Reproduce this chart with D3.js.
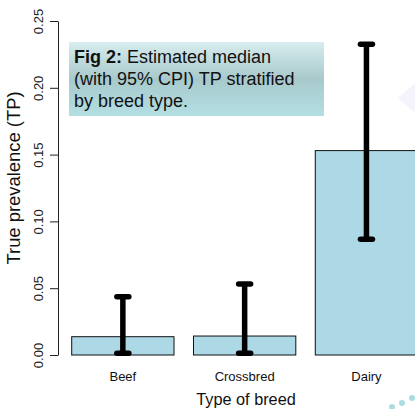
<!DOCTYPE html>
<html><head><meta charset="utf-8">
<script src="https://cdn.jsdelivr.net/npm/d3@7"></script>
<style>html,body{margin:0;padding:0;background:#fff;}svg{display:block;font-family:"Liberation Sans",Arial,sans-serif;}</style>
</head><body>
<script>
const categories = ["Beef", "Crossbred", "Dairy"];
const medianTP = [0.0137, 0.0142, 0.153];
const lowerCPI = [0.0013, 0.0013, 0.0866];
const upperCPI = [0.0436, 0.0531, 0.2326];
const yTicks = [0, 0.05, 0.10, 0.15, 0.20, 0.25];
const captionLines = ["Estimated median", "(with 95% CPI) TP stratified", "by breed type."];

const W = 415, H = 409;
const svg = d3.select("body").append("svg").attr("width", W).attr("height", H);

const defs = svg.append("defs");
const grad = defs.append("linearGradient").attr("id", "boxg").attr("x1", 0).attr("y1", 0).attr("x2", 0).attr("y2", 1);
grad.append("stop").attr("offset", "0%").attr("stop-color", "#d8edef");
grad.append("stop").attr("offset", "50%").attr("stop-color", "#a8c9cc");
grad.append("stop").attr("offset", "100%").attr("stop-color", "#b3dfe3");

// faint background decorations
svg.append("path").attr("d", "M398,98 L415,83 L415,113 Z").attr("fill", "#f5f4fc");
[[392, 407], [402, 403], [412, 398]].forEach(p =>
  svg.append("circle").attr("cx", p[0]).attr("cy", p[1]).attr("r", 3).attr("fill", "#aadde3"));

const x = d3.scaleBand().domain(categories).range([71.7, 417.6]).paddingInner(0.16).paddingOuter(0);
const y = d3.scaleLinear().domain([0, 0.25]).range([355, 21]);

// bars
svg.selectAll("rect.bar").data(categories).enter().append("rect")
  .attr("class", "bar")
  .attr("x", d => x(d))
  .attr("y", (d, i) => y(medianTP[i]))
  .attr("width", x.bandwidth())
  .attr("height", (d, i) => y(0) - y(medianTP[i]))
  .attr("fill", "#add8e6").attr("stroke", "#111").attr("stroke-width", 1);

// error bars
const eb = svg.append("g").attr("stroke", "#000").attr("stroke-width", 5.5).attr("stroke-linecap", "round");
categories.forEach((c, i) => {
  const cx = x(c) + x.bandwidth() / 2;
  eb.append("line").attr("x1", cx).attr("x2", cx).attr("y1", y(lowerCPI[i])).attr("y2", y(upperCPI[i])).attr("stroke-linecap", "butt");
  eb.append("line").attr("x1", cx - 6).attr("x2", cx + 6).attr("y1", y(upperCPI[i])).attr("y2", y(upperCPI[i]));
  eb.append("line").attr("x1", cx - 6).attr("x2", cx + 6).attr("y1", y(lowerCPI[i])).attr("y2", y(lowerCPI[i]));
});

// y axis
const yAxis = d3.axisLeft(y).tickValues(yTicks).tickFormat(d3.format(".2f")).tickSize(8).tickSizeOuter(0);
const ga = svg.append("g").attr("transform", "translate(58,0)").call(yAxis);
ga.select(".domain").attr("stroke", "#222");
ga.selectAll(".tick line").attr("stroke", "#222");
ga.selectAll(".tick text")
  .attr("font-size", 13).attr("fill", "#222")
  .attr("x", 0).attr("dy", 0).attr("dx", 0)
  .attr("text-anchor", "middle")
  .attr("transform", "translate(-15,0) rotate(-90)")
  .attr("y", 0);

// category labels
svg.selectAll("text.cat").data(categories).enter().append("text")
  .attr("class", "cat")
  .attr("x", d => x(d) + x.bandwidth() / 2).attr("y", 381)
  .attr("text-anchor", "middle").attr("font-size", 13).attr("fill", "#111")
  .text(d => d);

// axis titles
svg.append("text").attr("x", 246).attr("y", 405).attr("text-anchor", "middle")
  .attr("font-size", 16.3).attr("fill", "#111").text("Type of breed");
svg.append("text").attr("transform", "translate(20,178) rotate(-90)").attr("text-anchor", "middle")
  .attr("font-size", 18.4).attr("fill", "#111").text("True prevalence (TP)");

// caption box
svg.append("rect").attr("x", 69).attr("y", 42).attr("width", 255).attr("height", 74).attr("fill", "url(#boxg)");
const cap = svg.append("text").attr("font-size", 18).attr("fill", "#111");
const l1 = cap.append("tspan").attr("x", 74).attr("y", 63);
l1.append("tspan").attr("font-weight", "bold").text("Fig 2:");
l1.append("tspan").text(" " + captionLines[0]);
cap.append("tspan").attr("x", 74).attr("y", 85).text(captionLines[1]);
cap.append("tspan").attr("x", 74).attr("y", 106.5).text(captionLines[2]);
</script>
</body></html>
